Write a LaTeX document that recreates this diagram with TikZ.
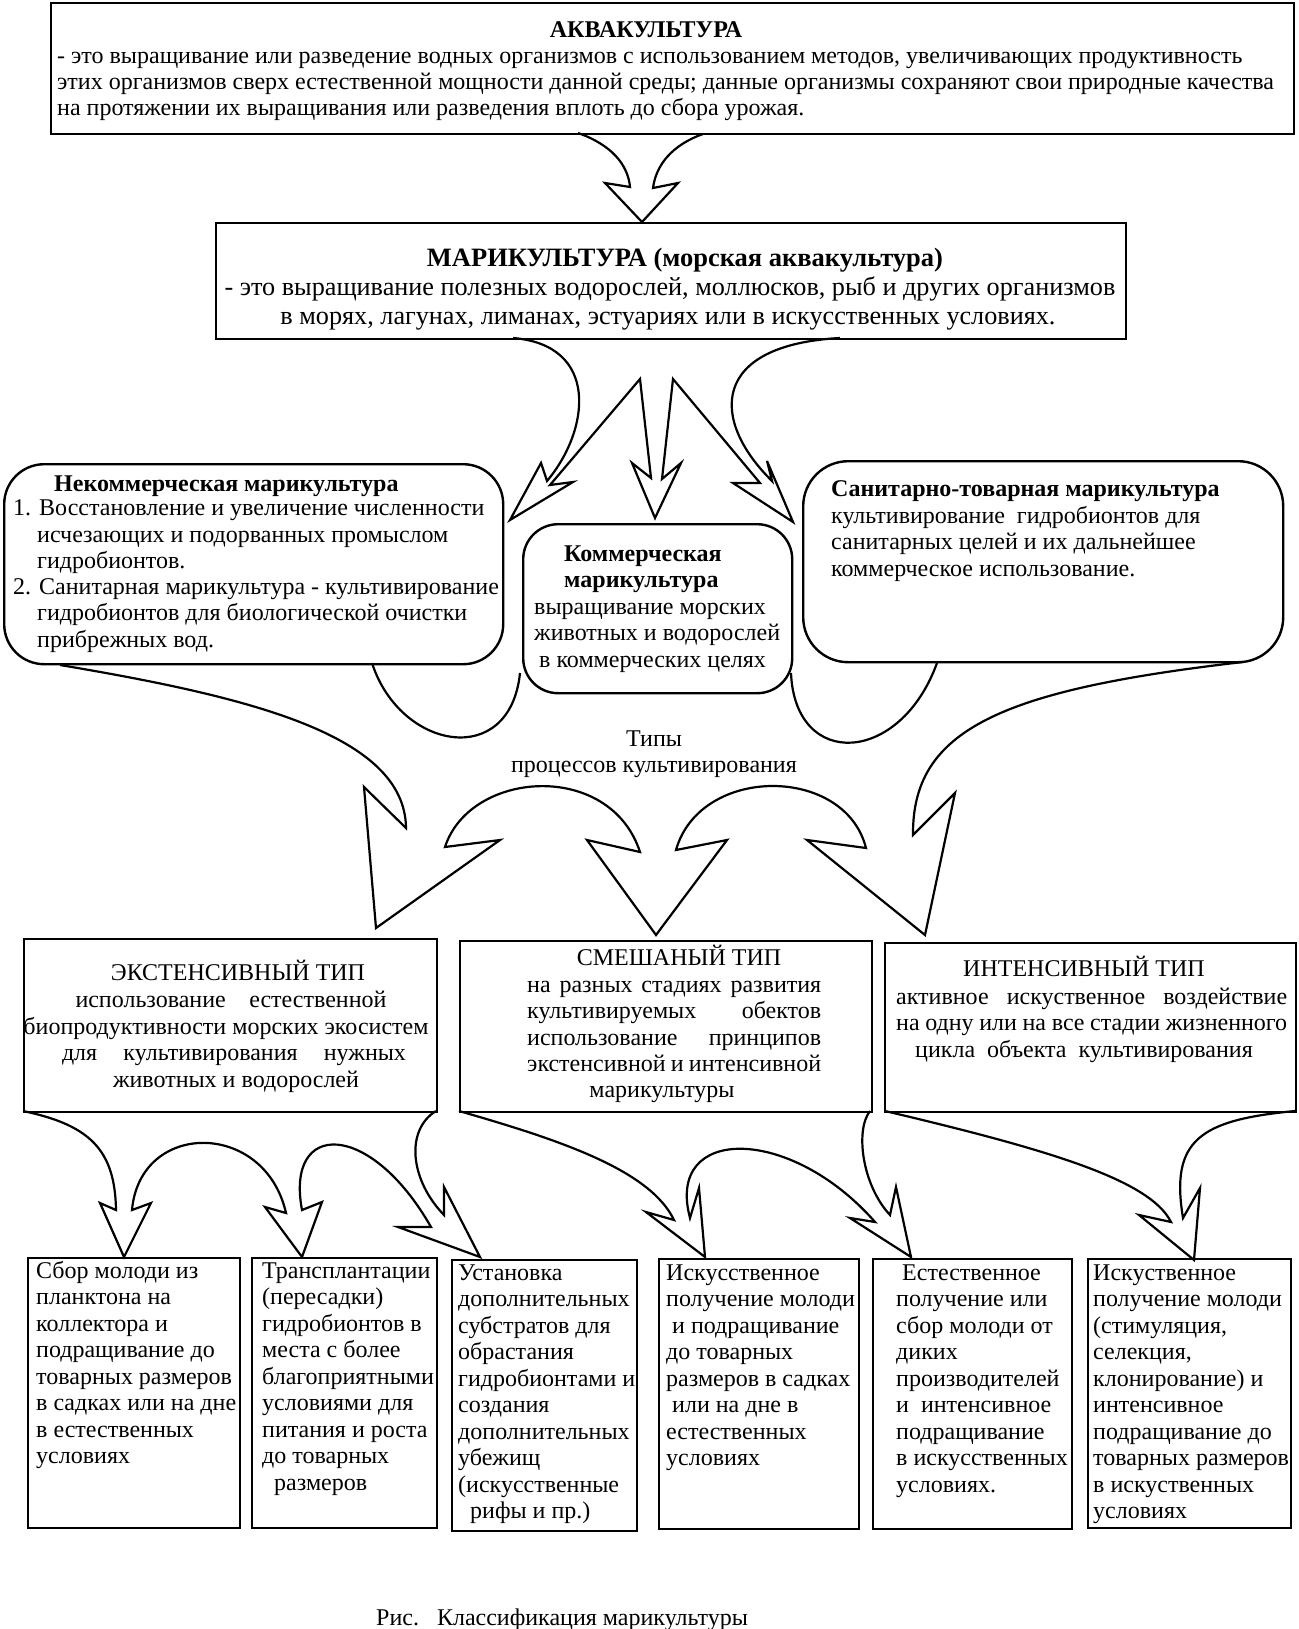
\documentclass[tikz,border=0pt]{standalone}
\usepackage{fontspec}
\setmainfont{Liberation Serif}
\tikzset{
  box/.style={draw, line width=2.4pt, inner sep=0pt, anchor=north west},
  rbox/.style={box, rounded corners=40pt},
  txt/.style={inner sep=0pt, font=\fontsize{24}{26.5}\selectfont},
  btxt/.style={txt, font=\fontsize{24}{26.5}\selectfont\bfseries},
  fatarrow/.style={draw, line width=2.2pt, line join=miter}
}
\begin{document}
\begin{tikzpicture}[x=1pt,y=-1pt]
  \useasboundingbox (0,0) rectangle (1298,1629);

  % Рамки
  \node[box, minimum width=1243pt, minimum height=131pt] (akv) at (50,2) {};
  \node[box, minimum width=910pt, minimum height=116pt] (mar) at (215,222) {};
  \node[rbox, minimum width=499pt, minimum height=200pt] (nekom) at (3,463) {};
  \node[rbox, rounded corners=35pt, minimum width=269pt, minimum height=169pt] (kom) at (522,523) {};
  \node[rbox, rounded corners=45pt, minimum width=480pt, minimum height=201pt] (santov) at (802,460) {};
  \node[box, minimum width=413pt, minimum height=173pt] (ext) at (23,938) {};
  \node[box, minimum width=412pt, minimum height=171pt] (mix) at (459,940) {};
  \node[box, minimum width=411pt, minimum height=169pt] (intens) at (884,942) {};
  \node[box, minimum width=212pt, minimum height=270pt] (sbor) at (27,1257) {};
  \node[box, minimum width=185pt, minimum height=270pt] (transpl) at (251,1257) {};
  \node[box, minimum width=185pt, minimum height=271pt] (ustan) at (451,1259) {};
  \node[box, minimum width=200pt, minimum height=270pt] (iskus) at (658,1258) {};
  \node[box, minimum width=199pt, minimum height=270pt] (estes) at (872,1258) {};
  \node[box, minimum width=203pt, minimum height=269pt] (iskuv) at (1087,1258) {};

  % Стрелки
  \draw[fatarrow] (578,133) .. controls (612,145) and (628,165) .. (630,187) -- (605,183) -- (642,222)
    -- (678,183) -- (653,188) .. controls (656,165) and (672,145) .. (703,134);

  \draw[fatarrow] (513,338) .. controls (600,345) and (590,430) .. (547,481) -- (541,463) -- (510,520)
    -- (573,482) -- (550,485) -- (640,379) -- (651,478) -- (632,463) -- (655,518) -- (681,463)
    -- (662,479) -- (673,379) -- (760,483) -- (733,483) -- (793,522) -- (767,461) -- (772,481)
    .. controls (710,420) and (710,345) .. (840,338);

  \draw[fatarrow] (60,665) .. controls (250,697) and (405,735) .. (406,828) -- (364,787) -- (376,928)
    -- (500,840) -- (445,847) .. controls (470,770) and (610,760) .. (640,852) -- (587,840) -- (656,935)
    -- (727,840) -- (676,850) .. controls (700,765) and (845,765) .. (866,848) -- (807,840) -- (925,935)
    -- (955,793) -- (913,835) .. controls (912,730) and (1000,690) .. (1243,662);
  \draw[fatarrow] (372,663) .. controls (400,750) and (510,770) .. (520,673);
  \draw[fatarrow] (791,673) .. controls (795,770) and (900,765) .. (937,663);

  \draw[fatarrow] (23,1111) .. controls (90,1125) and (115,1150) .. (116,1210) -- (100,1203) -- (124,1257)
    -- (151,1203) -- (132,1210) .. controls (140,1120) and (265,1120) .. (286,1213) -- (265,1207)
    -- (302,1257) -- (322,1202) -- (302,1210) .. controls (285,1120) and (370,1120) .. (431,1227)
    -- (398,1227) -- (480,1257) -- (444,1187) -- (444,1215) .. controls (410,1180) and (405,1130) .. (436,1111);
  \draw[fatarrow] (459,1111) .. controls (560,1140) and (650,1170) .. (674,1220) -- (646,1212) -- (705,1257)
    -- (699,1188) -- (690,1218) .. controls (665,1125) and (790,1125) .. (875,1222) -- (850,1218)
    -- (911,1257) -- (896,1187) -- (890,1215) .. controls (862,1185) and (855,1130) .. (870,1111);
  \draw[fatarrow] (885,1111) .. controls (1050,1150) and (1150,1180) .. (1171,1222) -- (1139,1215)
    -- (1194,1260) -- (1200,1188) -- (1183,1218) .. controls (1170,1140) and (1200,1120) .. (1295,1111);

  % Аквакультура
  \node[btxt, anchor=base] (akvtitle) at (646,38) {АКВАКУЛЬТУРА};
  \foreach \t [count=\i from 0] in {
      {- это выращивание или разведение водных организмов с использованием методов, увеличивающих продуктивность},
      {этих организмов сверх естественной мощности данной среды; данные организмы сохраняют свои природные качества},
      {на протяжении их выращивания или разведения вплоть до сбора урожая.}}
    \node[txt, anchor=base west] (akv\i) at (57,{64+26*\i}) {\t};

  % Марикультура
  \node[btxt, font=\fontsize{26.5}{29}\selectfont\bfseries, anchor=base] (martitle) at (685,266)
    {МАРИКУЛЬТУРА (морская аквакультура)};
  \node[txt, font=\fontsize{26.2}{29}\selectfont, anchor=base] (mar1) at (670,295)
    {- это выращивание полезных водорослей, моллюсков, рыб и других организмов};
  \node[txt, font=\fontsize{26.2}{29}\selectfont, anchor=base] (mar2) at (668,324)
    {в морях, лагунах, лиманах, эстуариях или в искусственных условиях.};

  % Некоммерческая
  \node[btxt, anchor=base west] (nektitle) at (54,491) {Некоммерческая марикультура};
  \node[txt, anchor=base west] (nek1) at (13,515) {1. Восстановление и увеличение численности};
  \node[txt, anchor=base west] (nek1a) at (37,542) {исчезающих и подорванных промыслом};
  \node[txt, anchor=base west] (nek1b) at (37,568) {гидробионтов.};
  \node[txt, anchor=base west] (nek2) at (13,594) {2. Санитарная марикультура - культивирование};
  \node[txt, anchor=base west] (nek2a) at (37,620) {гидробионтов для биологической очистки};
  \node[txt, anchor=base west] (nek2b) at (37,647) {прибрежных вод.};

  % Коммерческая
  \node[btxt, anchor=base west] (komtitle1) at (564,561) {Коммерческая};
  \node[btxt, anchor=base west] (komtitle2) at (564,587) {марикультура};
  \node[txt, anchor=base west] (kom1) at (534,614) {выращивание морских};
  \node[txt, anchor=base west] (kom2) at (534,640) {животных и водорослей};
  \node[txt, anchor=base west] (kom3) at (539,667) {в коммерческих целях};

  % Санитарно-товарная
  \node[btxt, anchor=base west] (santitle) at (831,496) {Санитарно-товарная марикультура};
  \foreach \t [count=\i from 0] in {культивирование\ \ гидробионтов для, санитарных целей и их дальнейшее,
      коммерческое использование.}
    \node[txt, anchor=base west] (san\i) at (831,{523+26.5*\i}) {\t};

  % Типы процессов
  \node[txt, anchor=base] (tipy) at (654,746) {Типы};
  \node[txt, anchor=base] (tipy2) at (654,772) {процессов культивирования};

  % Экстенсивный тип
  \node[txt, anchor=base] (exttitle) at (238,980) {ЭКСТЕНСИВНЫЙ ТИП};
  \node[txt, anchor=base] (ext1) at (231,1007) {\makebox[311pt][s]{использование естественной}};
  \node[txt, anchor=base] (ext2) at (226,1034) {биопродуктивности морских экосистем};
  \node[txt, anchor=base] (ext3) at (234,1060) {\makebox[344pt][s]{для культивирования нужных}};
  \node[txt, anchor=base] (ext4) at (236,1087) {животных и водорослей};

  % Смешаный тип
  \node[txt, anchor=base] (mixtitle) at (679,965) {СМЕШАНЫЙ ТИП};
  \foreach \t [count=\i from 0] in {на разных стадиях развития, культивируемых обектов,
      использование принципов, экстенсивной и интенсивной}
    \node[txt, anchor=base west] (mix\i) at (527,{992+26.5*\i}) {\makebox[294pt][s]{\t}};
  \node[txt, anchor=base] (mix4) at (662,1097) {марикультуры};

  % Интенсивный тип
  \node[txt, anchor=base] (inttitle) at (1084,976) {ИНТЕНСИВНЫЙ ТИП};
  \node[txt, anchor=base west] (int1) at (896,1004) {\makebox[391pt][s]{активное искуственное воздействие}};
  \node[txt, anchor=base west] (int2) at (896,1030) {\makebox[391pt][s]{на одну или на все стадии жизненного}};
  \node[txt, anchor=base west] (int3) at (915,1057) {цикла\ \ объекта\ \ культивирования};

  % Нижний ряд
  \foreach \t [count=\i from 0] in {Сбор молоди из, планктона на, коллектора и, подращивание до,
      товарных размеров, в садках или на дне, в естественных, условиях}
    \node[txt, anchor=base west] (sbor\i) at (36,{1278+26.5*\i}) {\t};
  \foreach \t [count=\i from 0] in {Трансплантации, {(пересадки)}, гидробионтов в, места с более,
      благоприятными, условиями для, питания и роста, до товарных, \ \ размеров}
    \node[txt, anchor=base west] (transpl\i) at (262,{1278+26.5*\i}) {\t};
  \foreach \t [count=\i from 0] in {Установка, дополнительных, субстратов для, обрастания,
      гидробионтами и, создания, дополнительных, убежищ, {(искусственные}, {\ \ рифы и пр.)}}
    \node[txt, anchor=base west] (ustan\i) at (458,{1280+26.5*\i}) {\t};
  \foreach \t [count=\i from 0] in {Искусственное, получение молоди, \ и подращивание, до товарных,
      размеров в садках, \ или на дне в, естественных, условиях}
    \node[txt, anchor=base west] (iskus\i) at (666,{1280+26.5*\i}) {\t};
  \foreach \t [count=\i from 0] in {\ Естественное, получение или, сбор молоди от, диких,
      производителей, и\ \ интенсивное, подращивание, в искусственных, условиях.}
    \node[txt, anchor=base west] (estes\i) at (896,{1280+26.5*\i}) {\t};
  \foreach \t [count=\i from 0] in {Искуственное, получение молоди, {(стимуляция,}, {селекция,},
      {клонирование) и}, интенсивное, подращивание до, товарных размеров, в искуственных, условиях}
    \node[txt, anchor=base west] (iskuv\i) at (1093,{1280+26.5*\i}) {\t};

  % Подпись
  \node[txt, anchor=base west] (caption) at (376,1625) {Рис.\ \ \ Классификация марикультуры};

\end{tikzpicture}
\end{document}
